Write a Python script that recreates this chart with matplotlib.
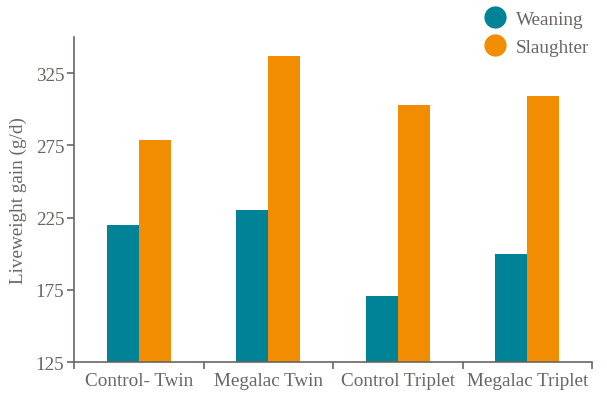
import matplotlib.pyplot as plt
import numpy as np
from matplotlib.lines import Line2D

categories = ["Control- Twin", "Megalac Twin", "Control Triplet", "Megalac Triplet"]
weaning = [220, 230, 171, 200]
slaughter = [279, 337, 303, 309]
y_ticks = [125, 175, 225, 275, 325]

teal = "#008396"
orange = "#f28c00"
grey = "#6b6461"

plt.rcParams['font.family'] = ['Liberation Serif', 'DejaVu Serif']

fig = plt.figure(figsize=(6.07, 4.02), dpi=100)
ax = fig.add_axes([74 / 607, 39 / 402, (592 - 74) / 607, (363 - 38) / 402])

x = np.arange(len(categories))
w = 0.247
ax.bar(x - w / 2, np.array(weaning) - 125, w, bottom=125, color=teal)
ax.bar(x + w / 2, np.array(slaughter) - 125, w, bottom=125, color=orange)

ax.set_xlim(-0.5, 3.5)
ax.set_ylim(125, 350)
ax.set_yticks(y_ticks)
ax.set_xticks(x)
ax.set_xticklabels(categories)
ax.set_xticks(np.arange(-0.5, 4, 1), minor=True)
ax.tick_params(axis='x', which='major', length=0, pad=7, labelsize=13.8, colors=grey)
ax.tick_params(axis='x', which='minor', length=5, width=1.2, color=grey)
ax.tick_params(axis='y', length=5, width=1.2, pad=2, labelsize=13.8, colors=grey)

for s in ['top', 'right']:
    ax.spines[s].set_visible(False)
for s in ['left', 'bottom']:
    ax.spines[s].set_color(grey)
    ax.spines[s].set_linewidth(1.2)

ax.set_ylabel("Liveweight gain (g/d)", fontsize=13.8, color=grey, labelpad=6)

handles = [Line2D([], [], marker='o', linestyle='', markersize=15, color=teal),
           Line2D([], [], marker='o', linestyle='', markersize=15, color=orange)]
leg = fig.legend(handles, ["Weaning", "Slaughter"], loc='upper left',
                 bbox_to_anchor=(463 / 607, 1.015), frameon=False, fontsize=13.8,
                 handletextpad=0.35, labelspacing=0.55, handlelength=1.5)
for t in leg.get_texts():
    t.set_color(grey)

fig.savefig("out.png", dpi=100)
